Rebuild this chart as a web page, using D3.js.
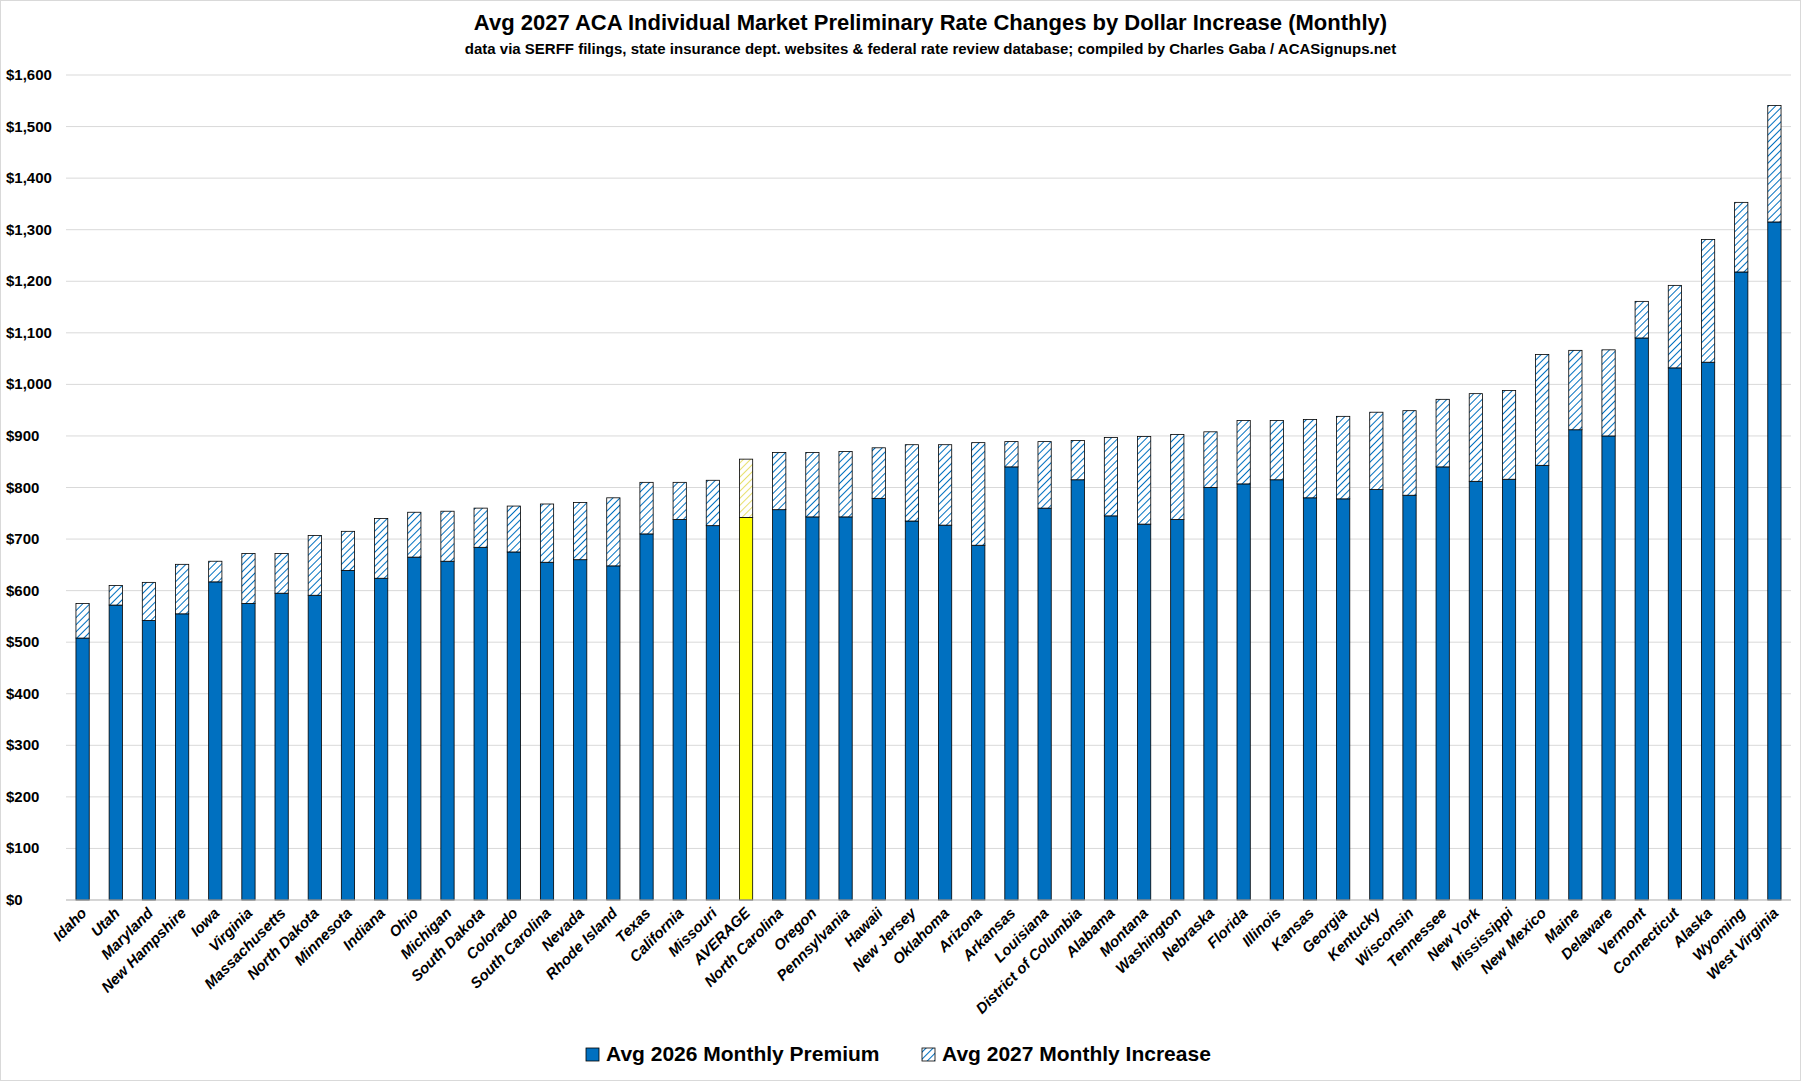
<!DOCTYPE html>
<html>
<head>
<meta charset="UTF-8">
<script src="https://cdn.jsdelivr.net/npm/d3@7"></script>
<style>
  body { margin: 0; background: #fff; }
  svg { display: block; font-family: "Liberation Sans Narrow", "Arial Narrow", "Liberation Sans", sans-serif; font-weight: bold; }
</style>
</head>
<body>
<script>
var states = ["Idaho","Utah","Maryland","New Hampshire","Iowa","Virginia","Massachusetts","North Dakota","Minnesota","Indiana","Ohio","Michigan","South Dakota","Colorado","South Carolina","Nevada","Rhode Island","Texas","California","Missouri","AVERAGE","North Carolina","Oregon","Pennsylvania","Hawaii","New Jersey","Oklahoma","Arizona","Arkansas","Louisiana","District of Columbia","Alabama","Montana","Washington","Nebraska","Florida","Illinois","Kansas","Georgia","Kentucky","Wisconsin","Tennessee","New York","Mississippi","New Mexico","Maine","Delaware","Vermont","Connecticut","Alaska","Wyoming","West Virginia"];
var premium2026 = [508,572,542,555,617,575,595,591,639,624,665,657,684,675,655,660,648,710,738,726,742,757,743,743,779,735,727,688,840,760,815,745,729,738,800,807,815,780,778,796,785,840,812,816,843,912,900,1090,1032,1043,1218,1315];
var increase2027 = [67,38,74,96,40,97,77,116,76,116,87,97,76,89,113,111,132,100,72,88,113,111,125,127,98,148,156,199,49,129,76,152,170,165,108,123,115,152,160,150,164,131,170,172,215,154,167,71,160,238,135,226];
var yTicks = [0,100,200,300,400,500,600,700,800,900,1000,1100,1200,1300,1400,1500,1600];

var W = 1801, H = 1081;
var m = {left: 66, right: 10, top: 75, bottom: 181};
var svg = d3.select("body").append("svg").attr("width", W).attr("height", H);

var defs = svg.append("defs");
function hatch(id, color) {
  var p = defs.append("pattern").attr("id", id).attr("patternUnits", "userSpaceOnUse")
    .attr("width", 5).attr("height", 5).attr("patternTransform", "rotate(45)");
  p.append("rect").attr("width", 5).attr("height", 5).attr("fill", "#fff");
  p.append("line").attr("x1", 0).attr("y1", 0).attr("x2", 0).attr("y2", 5)
    .attr("stroke", color).attr("stroke-width", 2);
}
hatch("hatchBlue", "#0070C0");
hatch("hatchYellow", "#E8E070");

svg.append("rect").attr("x", 0.5).attr("y", 0.5).attr("width", W - 1).attr("height", H - 1)
  .attr("fill", "none").attr("stroke", "#d9d9d9");

var x = d3.scaleBand().domain(states).range([m.left, W - m.right]).paddingInner(0.6).paddingOuter(0.3);
var y = d3.scaleLinear().domain([0, 1600]).range([H - m.bottom, m.top]);

svg.append("g").selectAll("line").data(yTicks).enter().append("line")
  .attr("x1", m.left).attr("x2", W - m.right)
  .attr("y1", function(d) { return y(d); }).attr("y2", function(d) { return y(d); })
  .attr("stroke", "#d9d9d9");

svg.append("g").selectAll("text").data(yTicks).enter().append("text")
  .attr("x", 6).attr("y", function(d) { return y(d) + 5; })
  .attr("font-size", 15).text(function(d) { return "$" + d3.format(",")(d); });

var g = svg.append("g");
g.selectAll("rect.base").data(states).enter().append("rect")
  .attr("x", function(d) { return x(d); })
  .attr("width", x.bandwidth())
  .attr("y", function(d, i) { return y(premium2026[i]); })
  .attr("height", function(d, i) { return y(0) - y(premium2026[i]); })
  .attr("fill", function(d) { return d === "AVERAGE" ? "#FFFF00" : "#0070C0"; })
  .attr("stroke", "#000").attr("stroke-width", 0.8);
g.selectAll("rect.inc").data(states).enter().append("rect")
  .attr("x", function(d) { return x(d); })
  .attr("width", x.bandwidth())
  .attr("y", function(d, i) { return y(premium2026[i] + increase2027[i]); })
  .attr("height", function(d, i) { return y(premium2026[i]) - y(premium2026[i] + increase2027[i]); })
  .attr("fill", function(d) { return d === "AVERAGE" ? "url(#hatchYellow)" : "url(#hatchBlue)"; })
  .attr("stroke", "#000").attr("stroke-width", 0.8);

svg.append("line").attr("x1", m.left).attr("x2", W - m.right)
  .attr("y1", y(0)).attr("y2", y(0)).attr("stroke", "#bfbfbf");

svg.append("g").selectAll("text").data(states).enter().append("text")
  .attr("transform", function(d) { return "translate(" + (x(d) + x.bandwidth() / 2 + 5) + "," + (y(0) + 14) + ") rotate(-45)"; })
  .attr("text-anchor", "end").attr("font-size", 15).attr("font-style", "italic")
  .text(function(d) { return d; });

svg.append("text").attr("x", W / 2 + 30).attr("y", 30).attr("text-anchor", "middle")
  .attr("font-size", 22).text("Avg 2027 ACA Individual Market Preliminary Rate Changes by Dollar Increase (Monthly)");
svg.append("text").attr("x", W / 2 + 30).attr("y", 54).attr("text-anchor", "middle")
  .attr("font-size", 15).text("data via SERFF filings, state insurance dept. websites & federal rate review database; compiled by Charles Gaba / ACASignups.net");

var leg = svg.append("g").attr("transform", "translate(586,1048)");
leg.append("rect").attr("width", 13).attr("height", 13).attr("fill", "#0070C0").attr("stroke", "#000").attr("stroke-width", 0.8);
leg.append("text").attr("x", 20).attr("y", 13).attr("font-size", 21).text("Avg 2026 Monthly Premium");
leg.append("rect").attr("x", 336).attr("width", 13).attr("height", 13).attr("fill", "url(#hatchBlue)").attr("stroke", "#000").attr("stroke-width", 0.8);
leg.append("text").attr("x", 356).attr("y", 13).attr("font-size", 21).text("Avg 2027 Monthly Increase");
</script>
</body>
</html>
